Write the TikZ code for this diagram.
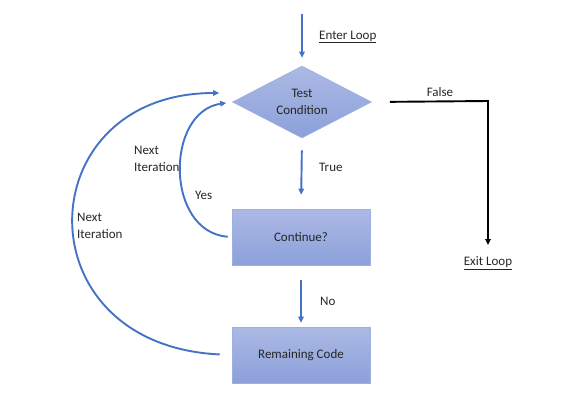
\documentclass[tikz,border=0pt]{standalone}
\usepackage{fontspec}
\setmainfont{Carlito}
\usetikzlibrary{shapes.geometric,arrows.meta}
\definecolor{arrowblue}{HTML}{4472C4}
\definecolor{filltop}{HTML}{ABB9E4}
\definecolor{fillbot}{HTML}{8CA0DA}
\definecolor{edgeblue}{HTML}{9DB0E0}
\begin{document}
\begin{tikzpicture}[x=1pt,y=-1pt,
  every node/.style={font=\fontsize{13}{16.5}\selectfont, text=black!85},
  shapebox/.style={draw=edgeblue, line width=0.6pt, top color=filltop, bottom color=fillbot},
  procbox/.style={shapebox, rectangle, minimum width=138pt, minimum height=56pt, inner sep=0pt},
  decision/.style={shapebox, diamond, aspect=1.93, minimum width=139pt, minimum height=72pt, inner sep=0pt, align=center},
  flow/.style={draw=arrowblue, line width=1.9pt, -{Triangle[length=6pt,width=5.5pt]}},
  exitflow/.style={draw=black, line width=1.9pt, -{Triangle[length=6pt,width=5.5pt]}},
  lbl/.style={inner sep=0pt, align=left}
]
\useasboundingbox (0,0) rectangle (583,400);

\node[decision] (test) at (302,102) {Test\\Condition};
\node[procbox] (cont) at (301,237) {Continue?};
\node[procbox] (rem) at (301,355) {Remaining Code};

\coordinate (enter) at (302,14);
\coordinate (exitpt) at (488,245);
\coordinate (corner) at (488,101);

% labels
\node[lbl, anchor=west] (enterlbl) at (319,37) {\underline{Enter Loop}};
\node[lbl] (falselbl) at (440,92) {False};
\node[lbl] (exitlbl) at (488,263) {\underline{Exit Loop}};
\node[lbl, anchor=west] (truelbl) at (319,167) {True};
\node[lbl, anchor=west] (nolbl) at (320,301) {No};
\node[lbl, anchor=west] (yeslbl) at (195,195) {Yes};
\node[lbl, anchor=west] (nextin) at (134,159) {Next\\Iteration};
\node[lbl, anchor=west] (nextout) at (77,226) {Next\\Iteration};

% connectors
\draw[flow, shorten >=8pt] (enter) -- (test.north);
\draw[flow, shorten <=12pt, shorten >=14pt] (test.south) -- (cont.north);
\draw[flow, shorten <=15pt, shorten >=4pt] (cont.south) -- (rem.north);
\draw[exitflow, shorten <=18pt] (test.east) -- (corner) -- (exitpt);
\draw[flow, shorten <=4pt, shorten >=6pt] (cont.west) .. controls (165,232) and (165,112) .. (test.west);
\draw[flow, shorten <=12pt, shorten >=13pt] (rem.west) .. controls (20,345) and (28,93) .. ([yshift=9pt]test.west);
\end{tikzpicture}
\end{document}
